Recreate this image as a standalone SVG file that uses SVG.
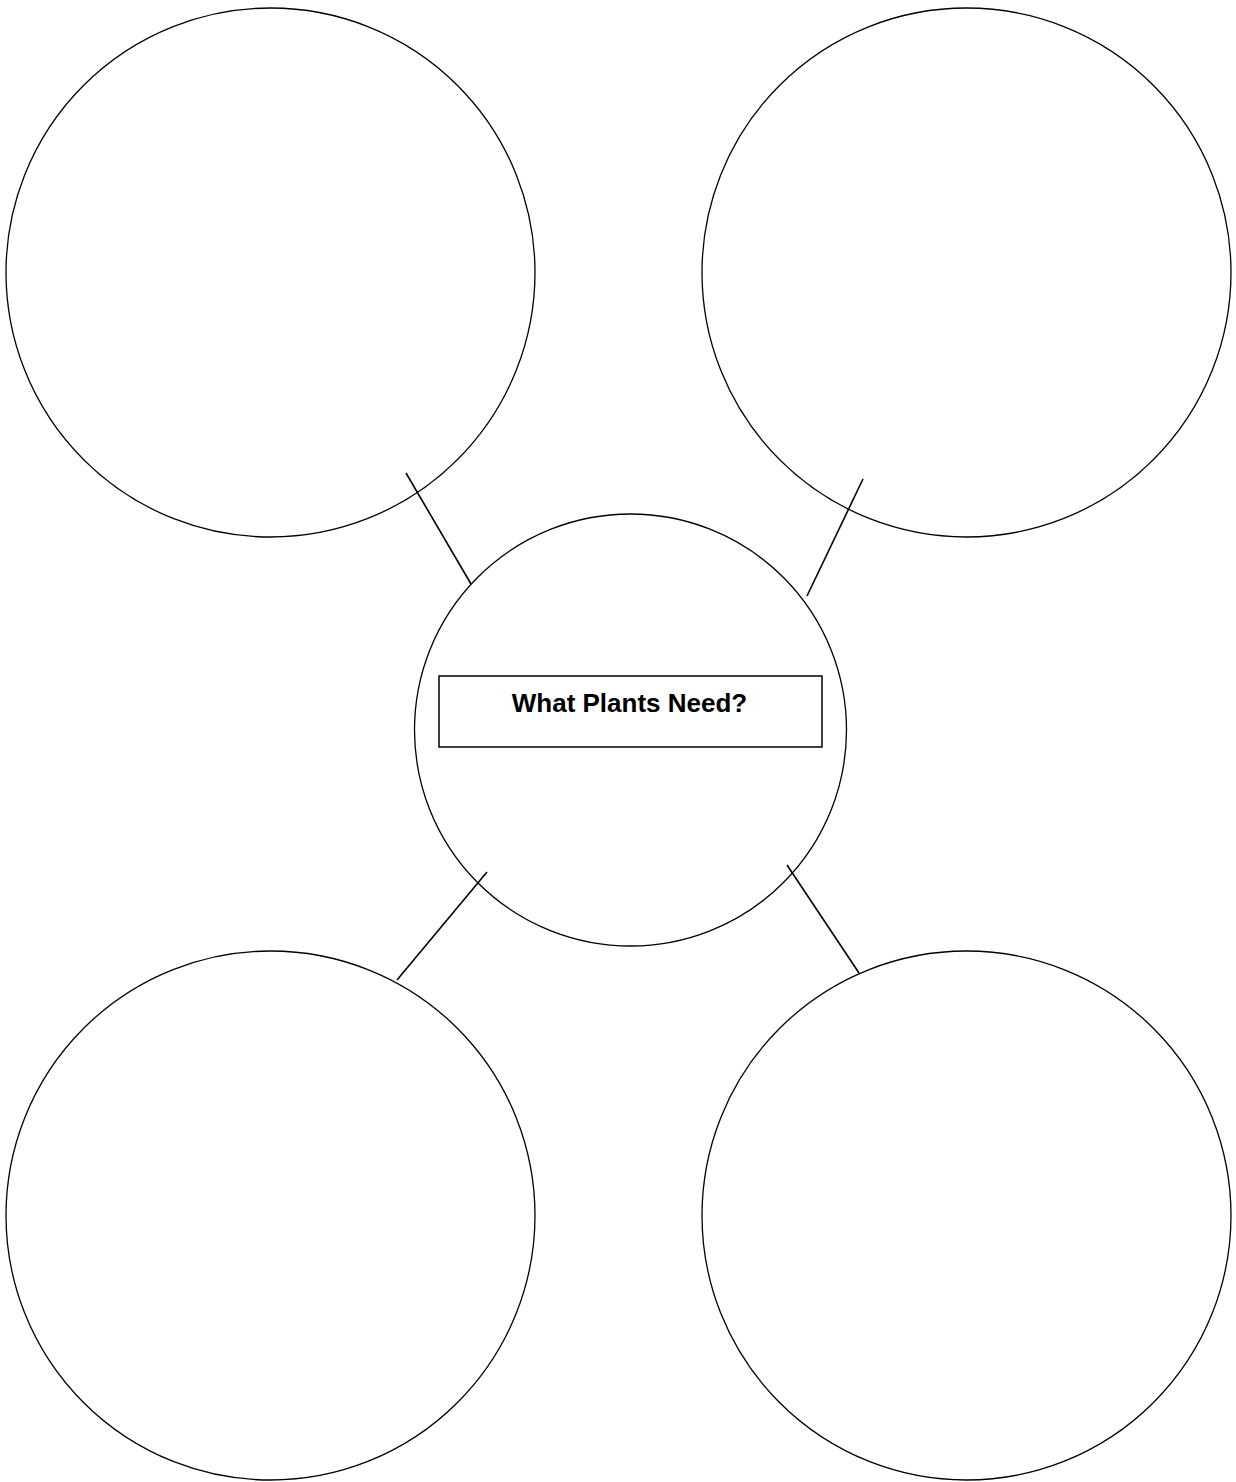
<svg xmlns="http://www.w3.org/2000/svg" width="1236" height="1482" viewBox="0 0 1236 1482">
<style>
.node{fill:none;stroke:#000;stroke-width:1.3}
.conn{stroke:#000;stroke-width:1.6;fill:none}
.box{fill:#fff;stroke:#000;stroke-width:1.5}
.title{font-family:"Liberation Sans",Arial,sans-serif;font-weight:bold;font-size:26px;fill:#000}
</style>
<rect width="1236" height="1482" fill="#fff"/>
<g id="connectors">
<line class="conn" x1="406" y1="473" x2="471" y2="584"/>
<line class="conn" x1="863" y1="479" x2="807" y2="596"/>
<line class="conn" x1="487" y1="872" x2="397" y2="980"/>
<line class="conn" x1="787" y1="865" x2="859" y2="973"/>
</g>
<g id="top-left"><circle class="node" cx="270.5" cy="272.5" r="264.5"/></g>
<g id="top-right"><circle class="node" cx="966.5" cy="272.5" r="264.5"/></g>
<g id="bottom-left"><circle class="node" cx="270.5" cy="1215.5" r="264.5"/></g>
<g id="bottom-right"><circle class="node" cx="966.5" cy="1215.5" r="264.5"/></g>
<g id="center">
<circle class="node" cx="630.5" cy="730" r="216"/>
<rect class="box" x="439" y="676" width="383" height="71"/>
<text class="title" x="629.5" y="712" text-anchor="middle">What Plants Need?</text>
</g>
</svg>
